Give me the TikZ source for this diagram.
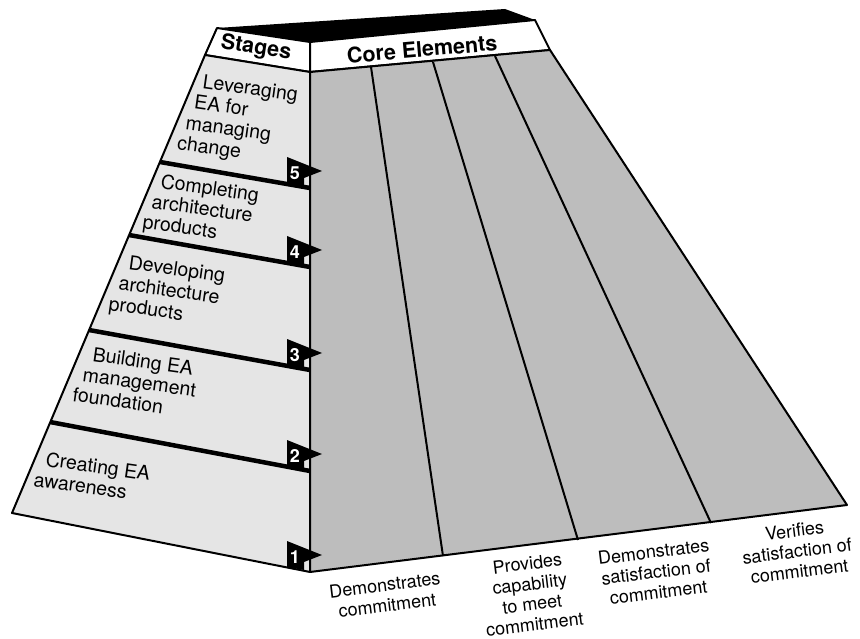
\documentclass[tikz,border=0pt]{standalone}
\usepackage{fontspec}
\setmainfont{TeX Gyre Heros}

\tikzset{
  stagetxt/.style={anchor=base west, rotate=-8, inner sep=0pt, font=\fontsize{19.5}{21}\selectfont},
  coretxt/.style={align=center, rotate=7, inner sep=0pt, font=\fontsize{18}{20.5}\selectfont},
  headtxt/.style={inner sep=0pt, font=\bfseries\fontsize{21.5}{24}\selectfont},
  flagnum/.style={inner sep=0pt, text=white, font=\bfseries\fontsize{18}{18}\selectfont},
}

\begin{document}
\begin{tikzpicture}[x=1pt, y=-1pt, line join=round]
    \useasboundingbox (0,0) rectangle (860,639);

    % Top of the block
    \fill (217,28) -- (505,9) -- (535,20) -- (310,42) -- cycle;

    % Header bands
    \draw [line width=2pt, fill=white] (217,28) -- (310,42) -- (310,72) -- (205,55) -- cycle;
    \draw [line width=2pt, fill=white] (310,42) -- (535,20) -- (550,50) -- (310,72) -- cycle;

    % Stages side and core elements side
    \draw [line width=2pt, fill=black!10] (205,55) -- (310,72) -- (310,572) -- (12,513) -- cycle;
    \draw [line width=2pt, fill=black!26] (310,72) -- (550,50) -- (847,505) -- (310,572) -- cycle;
    \draw [line width=2pt] (371,67) -- (443,556);
    \draw [line width=2pt] (433,62) -- (578,540);
    \draw [line width=2pt] (495,56) -- (711,523);

    % Stage dividers
    \foreach \xl/\yl/\yr in {160/162/188, 129/235/267, 89/330/370, 50/422/471}
      \draw [line width=4.5pt] (\xl,\yl) -- (310,\yr);

    % Flags
    \foreach \yr/\n in {188/5, 267/4, 370/3, 471/2, 572/1} {
      \fill (287,{\yr-31}) -- (322,{\yr-17}) -- (304,{\yr-10}) -- (304,{\yr-2}) -- (287,{\yr-5}) -- cycle;
      \node [flagnum] (flag\n) at (295,{\yr-15}) {\n};
    }

    % Stage names
    \foreach \t [count=\i] in {Leveraging, EA for, managing, change}
      \node [stagetxt] (lev\i) at ({202-8.5*(\i-1)}, {88+20.5*(\i-1)}) {\t};
    \foreach \t [count=\i] in {Completing, architecture, products}
      \node [stagetxt] (comp\i) at ({160-9*(\i-1)}, {188+20*(\i-1)}) {\t};
    \foreach \t [count=\i] in {Developing, architecture, products}
      \node [stagetxt] (dev\i) at ({128-10*(\i-1)}, {269+20.5*(\i-1)}) {\t};
    \foreach \t [count=\i] in {Building EA, management, foundation}
      \node [stagetxt] (build\i) at ({92-10*(\i-1)}, {361+20*(\i-1)}) {\t};
    \foreach \t [count=\i] in {Creating EA, awareness}
      \node [stagetxt] (crea\i) at ({45-12*(\i-1)}, {466+20*(\i-1)}) {\t};

    % Headers
    \node [headtxt, rotate=-9] (stages) at (256,48) {Stages};
    \node [headtxt, rotate=5] (core) at (422,49) {Core Elements};

    % Core elements
    \node [coretxt] (dem) at (386,595) {Demonstrates\\commitment};
    \node [coretxt] (prov) at (531,594) {Provides\\capability\\to meet\\commitment};
    \node [coretxt] (sat) at (656,572) {Demonstrates\\satisfaction of\\commitment};
    \node [coretxt] (ver) at (797,551) {Verifies\\satisfaction of\\commitment};
\end{tikzpicture}
\end{document}
